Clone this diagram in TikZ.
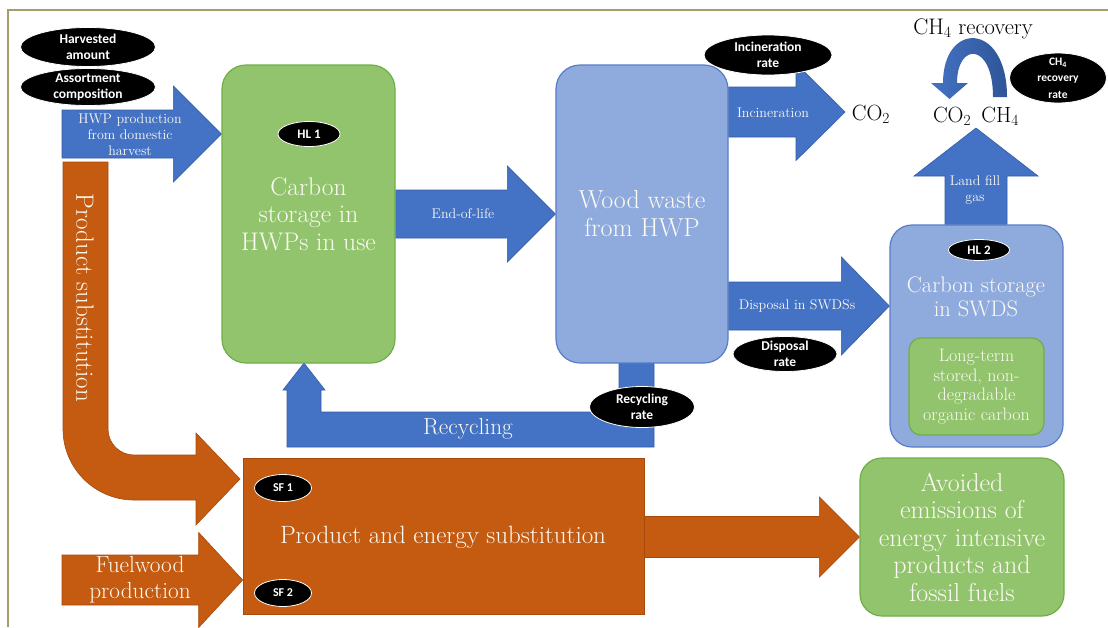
\documentclass[tikz,border=0pt]{standalone}
\usepackage{fontspec}
\newfontfamily\labfont{Carlito}
\usetikzlibrary{calc,shapes.geometric}
\pgfdeclarelayer{bg}
\pgfsetlayers{bg,main}
\definecolor{hgreen}{RGB}{146,196,110}
\definecolor{hgreenline}{RGB}{112,173,71}
\definecolor{lblue}{RGB}{143,170,220}
\definecolor{lblueline}{RGB}{88,124,200}
\definecolor{ablue}{RGB}{68,114,196}
\definecolor{ablueline}{RGB}{52,92,168}
\definecolor{dblue}{RGB}{47,85,151}
\definecolor{aorange}{RGB}{197,90,17}
\definecolor{aorangeline}{RGB}{168,74,14}
\definecolor{frameline}{RGB}{165,157,107}
\definecolor{cream}{RGB}{252,250,242}
\tikzset{
  gbox/.style={draw=hgreenline, fill=hgreen, line width=1.2pt, rounded corners=24pt, inner sep=0pt},
  bbox/.style={draw=lblueline, fill=lblue, line width=1.2pt, rounded corners=24pt, inner sep=0pt},
  btxt/.style={text=cream, align=center, inner sep=0pt, font=\fontsize{25.5}{27.5}\selectfont},
  stxt/.style={text=cream, align=center, inner sep=0pt, font=\fontsize{14}{16}\selectfont},
  dtxt/.style={text=black, inner sep=0pt, font=\fontsize{22}{26}\selectfont},
  tag/.style={ellipse, fill=black, draw=white, line width=0.8pt, inner sep=0pt},
  tagt/.style={text=white, align=center, inner sep=0pt, font=\labfont\bfseries\fontsize{13.5}{16.5}\selectfont},
  blockblue/.style={fill=ablue, draw=ablueline, line width=0.6pt},
  blockorange/.style={fill=aorange, draw=aorangeline, line width=0.6pt},
}
% #1 style, #2 start, #3 tip, #4 body half, #5 head half, #6 head length
\newcommand\harrowshape[6]{\path[#1] let \p1=(#2), \p2=(#3) in
  (\x1,\y2+#4pt) -- (\x2-#6pt,\y2+#4pt) -- (\x2-#6pt,\y2+#5pt) -- (\x2,\y2)
  -- (\x2-#6pt,\y2-#5pt) -- (\x2-#6pt,\y2-#4pt) -- (\x1,\y2-#4pt) -- cycle;}
\begin{document}
\begin{tikzpicture}[x=1pt,y=-1pt]
\useasboundingbox (0,0) rectangle (1108,627);
\draw[frameline, line width=1.4pt] (8,627) -- (8,10) -- (1108,10);

% main boxes
\node[gbox, btxt, minimum width=173, minimum height=298] (hwp) at (308.5,214) {Carbon\\storage in\\HWPs in use};
\node[bbox, btxt, font=\fontsize{26}{28}\selectfont, minimum width=172, minimum height=298] (waste) at (642,214) {Wood waste\\from HWP};
\node[bbox, minimum width=173, minimum height=222, rounded corners=22pt] (swds) at (976.5,336) {};
\node[btxt, font=\fontsize{22.5}{23.5}\selectfont] (swdst) at (976,297) {Carbon storage\\in SWDS};
\node[gbox, minimum width=135, minimum height=97, rounded corners=12pt, text=cream, align=center,
      font=\fontsize{18}{19.5}\selectfont] (ltc) at (976.5,386.5) {Long-term\\stored, non-\\degradable\\organic carbon};
\node[gbox, btxt, font=\fontsize{26}{27.5}\selectfont, minimum width=204, minimum height=158, rounded corners=22pt] (avoid) at (962,537)
  {Avoided\\emissions of\\energy intensive\\products and\\fossil fuels};
\node[fill=aorange, draw=aorangeline, line width=0.6pt, minimum width=401, minimum height=156, inner sep=0pt] (subst) at (443.5,536) {};
\node[btxt, font=\fontsize{25}{27}\selectfont] (substt) at (443,537) {Product and energy substitution};

% free text
\node[dtxt] (co2a) at (871,114) {CO\textsubscript{2}};
\node[dtxt, font=\fontsize{22.5}{26}\selectfont] (ch4rec) at (973,29) {CH\textsubscript{4} recovery};
\node[dtxt] (gases) at (976,116) {CO\textsubscript{2}\, CH\textsubscript{4}};

% helper coordinates
\coordinate (hwpstart) at (62,134);
\coordinate (yhwp) at (0,134);
\coordinate (yinc) at (0,112);
\coordinate (inctip) at (845,112);
\coordinate (ydis) at (0,306);
\coordinate (fwstart) at (62,580);
\coordinate (yfw) at (0,580);
\coordinate (lftip) at (976,128);

\begin{pgfonlayer}{bg}
  \harrowshape{blockblue}{hwpstart}{hwp.west |- yhwp}{24}{48}{48}
  \harrowshape{blockblue}{hwp.east}{waste.west}{24}{48}{48}
  \harrowshape{blockblue}{waste.east |- yinc}{inctip}{25}{48.5}{49}
  \harrowshape{blockblue}{waste.east |- ydis}{swds.west |- ydis}{24}{49}{48}
  \harrowshape{blockorange}{subst.east}{avoid.west}{20.5}{40}{40}
  \harrowshape{blockorange}{fwstart}{subst.west |- yfw}{25}{47.5}{44}
  % landfill gas (upward)
  \path[blockblue] let \p1=(swds.north), \p2=(lftip) in
    (\x2-31pt,\y1) -- (\x2-31pt,\y2-48pt) -- (\x2-62pt,\y2-48pt) -- (\x2,\y2)
    -- (\x2+62pt,\y2-48pt) -- (\x2+31pt,\y2-48pt) -- (\x2+31pt,\y1) -- cycle;
  % recycling
  \path[blockblue] (619,363) -- (654,363) -- (654,447) -- (287,447) -- (287,390) -- (283,390)
    -- (304,363) -- (325,390) -- (321,390) -- (321,412) -- (619,412) -- cycle;
  % product substitution bend
  \path[blockorange] (63,162) -- (108,162) -- (108,429) .. controls (108,443.4) and (119.6,455) .. (134,455)
    -- (196,455) -- (196,433) -- (240,479) -- (196,525) -- (196,500) -- (134,500)
    .. controls (94.8,500) and (63,468.2) .. (63,429) -- cycle;
  % CH4 recovery loop
  \shade[left color=ablue, right color=dblue] (1007,97) .. controls (1007,21) and (943,21) .. (943,83)
    -- (931,83) -- (949.5,99) -- (968,83) -- (957,83) .. controls (957,42) and (993,42) .. (993,97) -- cycle;
\end{pgfonlayer}

% arrow labels
\node[stxt] (lhwp) at (130,134.5) {HWP production\\from domestic\\harvest};
\node[stxt] (leol) at (463,214) {End-of-life};
\node[stxt] (linc) at (773,113) {Incineration};
\node[stxt] (ldis) at (797,306) {Disposal in SWDSs};
\node[stxt] (llf) at (975,190) {Land fill\\gas};
\node[stxt, font=\fontsize{23.3}{26}\selectfont] (lrec) at (468,429) {Recycling};
\node[stxt, font=\fontsize{23.3}{26}\selectfont] (lfw) at (140,580) {Fuelwood\\production};
\node[stxt, font=\fontsize{25}{28}\selectfont, rotate=-90] (lps) at (85,298) {Product substitution};

% black tags
\node[tag, minimum width=135, minimum height=39] (harv) at (88,47) {};
\node[tagt] at (harv.center) {Harvested\\amount};
\node[tag, minimum width=135, minimum height=37] (assort) at (88,87) {};
\node[tagt] at (assort.center) {Assortment\\composition};
\node[tag, minimum width=62, minimum height=25] (hl1) at (309,134) {};
\node[tagt, font=\labfont\bfseries\fontsize{13}{15}\selectfont] at (hl1.center) {HL 1};
\node[tag, minimum width=61, minimum height=21] (hl2) at (979,250) {};
\node[tagt, font=\labfont\bfseries\fontsize{13}{15}\selectfont] at (hl2.center) {HL 2};
\node[tag, minimum width=128, minimum height=40] (incr) at (768,55) {};
\node[tagt] at (incr.center) {Incineration\\rate};
\node[tag, minimum width=97, minimum height=50] (ch4r) at (1058,78) {};
\node[tagt, font=\labfont\bfseries\fontsize{11.5}{16.5}\selectfont] at (ch4r.center) {CH\textsubscript{4}\\recovery\\rate};
\node[tag, minimum width=104, minimum height=35] (disr) at (785,354) {};
\node[tagt] at (disr.center) {Disposal\\rate};
\node[tag, minimum width=105, minimum height=41] (recr) at (642,407) {};
\node[tagt] at (recr.center) {Recycling\\rate};
\node[tag, minimum width=57, minimum height=27] (sf1) at (283,488) {};
\node[tagt, font=\labfont\bfseries\fontsize{12}{14}\selectfont] at (sf1.center) {SF 1};
\node[tag, minimum width=57, minimum height=27] (sf2) at (283,593) {};
\node[tagt, font=\labfont\bfseries\fontsize{12}{14}\selectfont] at (sf2.center) {SF 2};
\end{tikzpicture}
\end{document}
